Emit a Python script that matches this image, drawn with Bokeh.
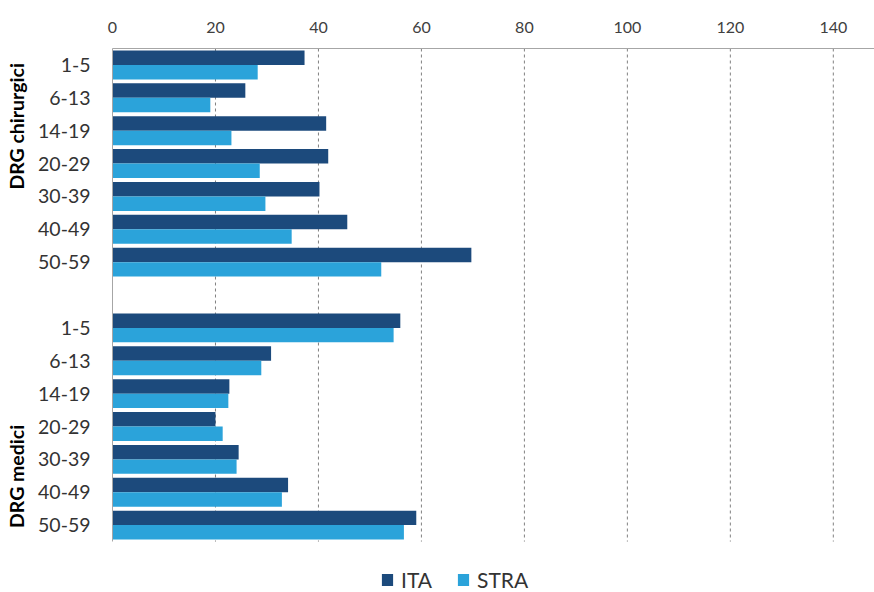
from bokeh.plotting import figure
from bokeh.models import Range1d, FixedTicker, Legend, LegendItem, ColumnDataSource, LinearAxis
from bokeh.embed import file_html
from bokeh.resources import INLINE

# ---- data ----
age_labels = ["1-5", "6-13", "14-19", "20-29", "30-39", "40-49", "50-59"]
groups = ["DRG chirurgici", "DRG medici"]
ita_chir = [37.3, 25.8, 41.5, 41.9, 40.2, 45.6, 69.7]
stra_chir = [28.2, 19.0, 23.1, 28.6, 29.7, 34.8, 52.2]
ita_med = [55.9, 30.8, 22.7, 20.0, 24.5, 34.1, 59.0]
stra_med = [54.6, 28.9, 22.5, 21.4, 24.1, 32.9, 56.6]
x_ticks = [0, 20, 40, 60, 80, 100, 120, 140]

ITA_COLOR = "#1c4a7c"
STRA_COLOR = "#2ba3da"
FONT = "Lato"

# slot positions: chirurgici 0..6, gap 7, medici 8..14
chir_pos = list(range(0, 7))
med_pos = list(range(8, 15))
positions = chir_pos + med_pos
ita_vals = ita_chir + ita_med
stra_vals = stra_chir + stra_med
tick_labels = age_labels + age_labels
group_pos = [1.87, 12.52]

off = 0.22
bh = 0.44
src_ita = ColumnDataSource(dict(y=[p - off for p in positions], v=ita_vals))
src_stra = ColumnDataSource(dict(y=[p + off for p in positions], v=stra_vals))

W, H = 874, 592
p = figure(width=W, height=H, output_backend="svg", toolbar_location=None,
           x_range=Range1d(0, 148.0), y_range=Range1d(16.05, -0.5),
           x_axis_location="above")
p.min_border_left = 112
p.min_border_right = 0
p.min_border_top = 48
p.min_border_bottom = 0
p.outline_line_color = None
p.background_fill_color = "white"
p.border_fill_color = "white"

# dashed grid lines drawn at the x tick values, limited to the category area
grid_src = ColumnDataSource(dict(x=x_ticks[1:], y0=[-0.5] * (len(x_ticks) - 1),
                                 y1=[14.5] * (len(x_ticks) - 1)))
p.segment(x0="x", x1="x", y0="y0", y1="y1", source=grid_src,
          line_color="#808080", line_dash="3 3", line_width=1)

r_ita = p.hbar(y="y", right="v", left=0, height=bh, source=src_ita,
               fill_color=ITA_COLOR, line_color=None)
r_stra = p.hbar(y="y", right="v", left=0, height=bh, source=src_stra,
                fill_color=STRA_COLOR, line_color=None)

# x axis (top)
xa = p.xaxis[0]
xa.ticker = FixedTicker(ticks=x_ticks)
xa.major_label_text_font = FONT
xa.major_label_text_font_size = "16px"
xa.major_label_text_color = "#404040"
xa.major_tick_line_color = None
xa.major_tick_out = 0
xa.major_tick_in = 0
xa.minor_tick_line_color = None
xa.axis_line_color = "#a6a6a6"
xa.major_label_standoff = 16

# y axis
ya = p.yaxis[0]
ya.ticker = FixedTicker(ticks=positions)
ya.major_label_overrides = {pos: lab for pos, lab in zip(positions, tick_labels)}
ya.major_label_text_font = FONT
ya.major_label_text_font_size = "19.5px"
ya.major_label_text_color = "#333333"
ya.major_tick_line_color = None
ya.major_tick_out = 0
ya.major_tick_in = 0
ya.minor_tick_line_color = None
ya.axis_line_color = "#a6a6a6"
ya.major_label_standoff = 22
ya.bounds = (-0.5, 14.5)

p.xgrid.grid_line_color = None
p.ygrid.grid_line_color = None

# group labels as an outer axis
ga = LinearAxis(ticker=FixedTicker(ticks=group_pos),
                major_label_overrides={gp: g for gp, g in zip(group_pos, groups)},
                major_label_orientation="vertical",
                major_label_text_font=FONT, major_label_text_font_style="bold",
                major_label_text_font_size="19.5px", major_label_text_color="#000000",
                axis_line_color=None, major_tick_line_color=None,
                minor_tick_line_color=None, major_tick_out=0, major_tick_in=0,
                major_label_standoff=7)
p.add_layout(ga, "left")

legend = Legend(items=[LegendItem(label="ITA", renderers=[r_ita]),
                       LegendItem(label="STRA", renderers=[r_stra])],
                orientation="horizontal", location=(268, 0),
                label_text_font=FONT, label_text_font_size="21px",
                label_text_color="#333333", label_height=20,
                glyph_width=14, glyph_height=15, spacing=24,
                label_standoff=7, padding=0, margin=0,
                background_fill_alpha=0, border_line_color=None)
p.add_layout(legend, "center")

open("out.html", "w").write(file_html(p, INLINE))
